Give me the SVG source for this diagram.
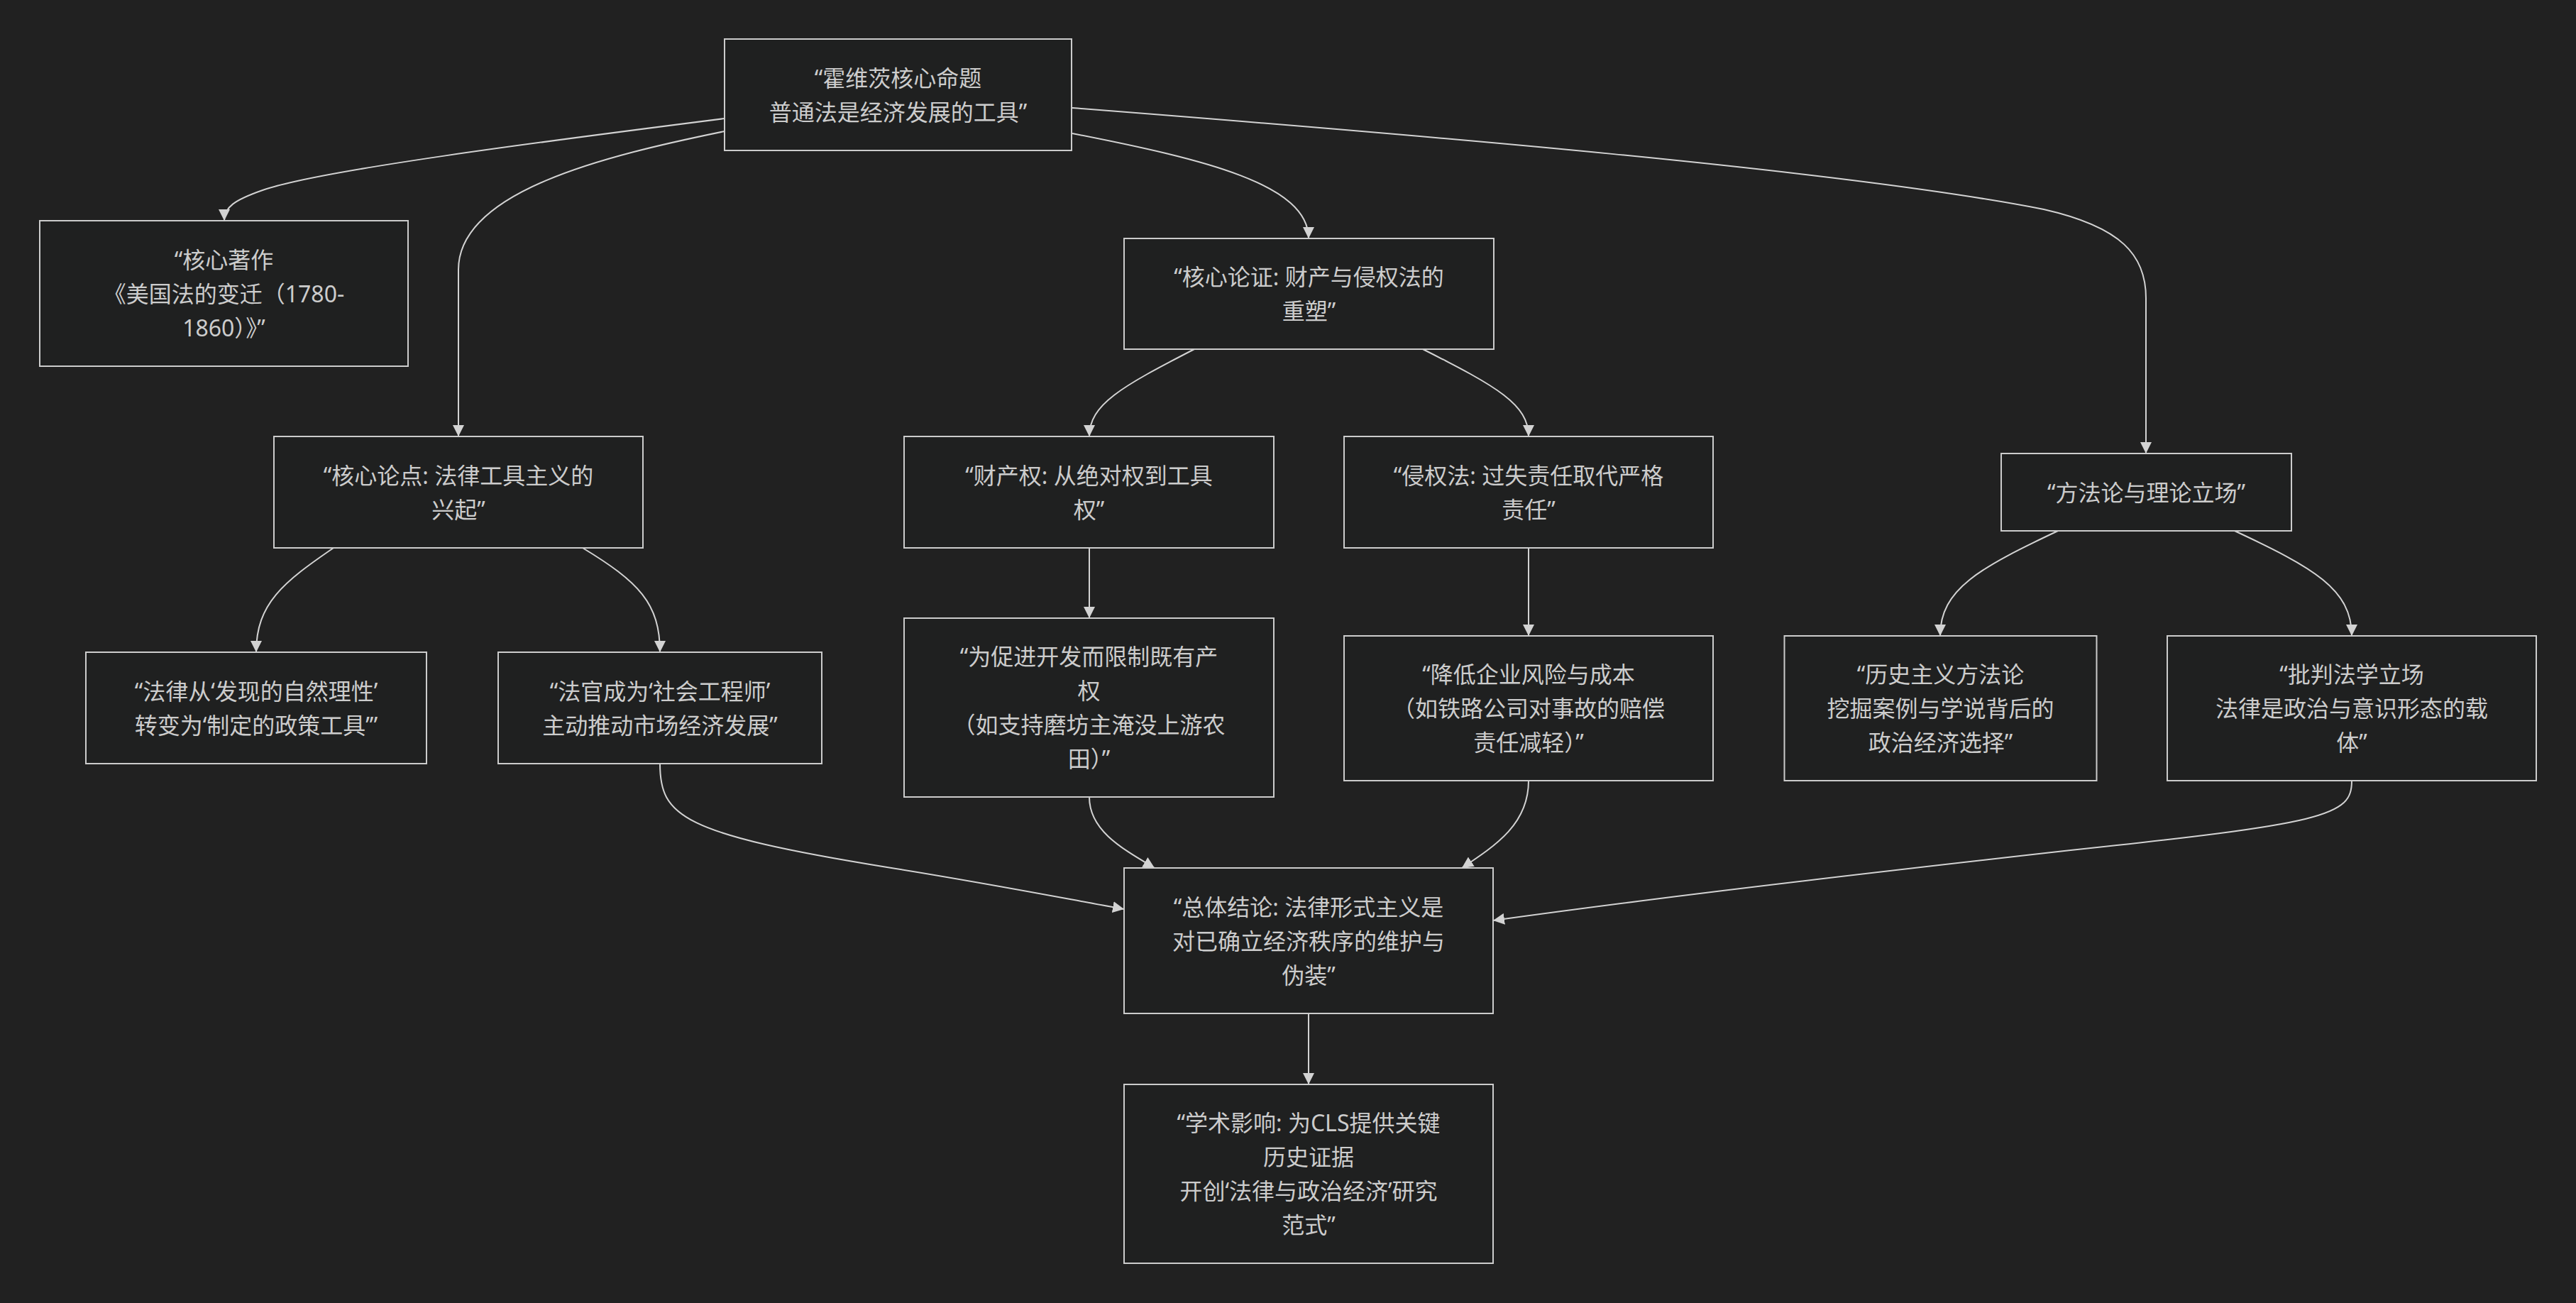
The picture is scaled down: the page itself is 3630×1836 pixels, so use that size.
<svg xmlns="http://www.w3.org/2000/svg" width="3630" height="1836" viewBox="0 0 3630 1836">
<defs>
<marker id="arr" markerUnits="userSpaceOnUse" markerWidth="16" markerHeight="16" viewBox="0 0 16 16" refX="16" refY="8" orient="auto">
<path d="M0,0 L16,8 L0,16 z" fill="#d3d3d3"/>
</marker>
<style>
.n rect{fill:#1f2020;stroke:#cccccc;stroke-width:2}
.n text{fill:#cccccc;font-family:"Noto Sans","Noto Sans CJK SC",sans-serif;font-size:32px;text-anchor:middle}
.e path{fill:none;stroke:#d3d3d3;stroke-width:2;marker-end:url(#arr)}
</style>
</defs>
<rect width="3630" height="1836" fill="#212121"/>
<g class="e" id="edges">
<path d="M1021,167 C760,200 450,240 370,268 C330,282 316,292 316,311"/>
<path d="M1021,185 C850,220 646,270 646,380 L646,615"/>
<path d="M1511,188 C1700,225 1844,260 1844,336"/>
<path d="M1511,152 C2000,190 2600,240 2880,295 C2990,320 3024,360 3024,420 L3024,639"/>
<path d="M470,772 C400,820 361,850 361,919"/>
<path d="M821,772 C900,820 930,850 930,919"/>
<path d="M1683,492 C1580,545 1535,570 1535,615"/>
<path d="M2005,492 C2110,545 2154,570 2154,615"/>
<path d="M1535,772 L1535,871"/>
<path d="M2154,772 L2154,896"/>
<path d="M2900,748 C2790,800 2734,830 2734,896"/>
<path d="M3149,748 C3260,800 3314,830 3314,896"/>
<path d="M930,1076 C930,1150 960,1175 1250,1222 C1400,1246 1500,1266 1584,1281"/>
<path d="M1535,1123 C1535,1170 1580,1195 1627,1223"/>
<path d="M2154,1100 C2154,1160 2110,1190 2060,1223"/>
<path d="M3314,1100 C3314,1150 3280,1160 2900,1200 C2500,1245 2300,1270 2104,1297"/>
<path d="M1844,1428 L1844,1528"/>
</g>
<g class="n" id="nA"><rect x="1021" y="55" width="489" height="157"/>
<text x="1265.5" y="121.5">“霍维茨核心命题</text><text x="1265.5" y="169.5">普通法是经济发展的工具”</text></g>
<g class="n" id="nB"><rect x="56" y="311" width="519" height="205"/>
<text x="315.5" y="377.5">“核心著作</text><text x="315.5" y="425.5">《美国法的变迁（1780-</text><text x="315.5" y="473.5">1860）》”</text></g>
<g class="n" id="nC"><rect x="386" y="615" width="520" height="157"/>
<text x="646" y="681.5">“核心论点: 法律工具主义的</text><text x="646" y="729.5">兴起”</text></g>
<g class="n" id="nD"><rect x="1584" y="336" width="521" height="156"/>
<text x="1844.5" y="402">“核心论证: 财产与侵权法的</text><text x="1844.5" y="450">重塑”</text></g>
<g class="n" id="nE"><rect x="2820" y="639" width="409" height="109"/>
<text x="3024.5" y="705.5">“方法论与理论立场”</text></g>
<g class="n" id="nF"><rect x="121" y="919" width="480" height="157"/>
<text x="361" y="985.5">“法律从‘发现的自然理性’</text><text x="361" y="1033.5">转变为‘制定的政策工具’”</text></g>
<g class="n" id="nG"><rect x="702" y="919" width="456" height="157"/>
<text x="930" y="985.5">“法官成为‘社会工程师’</text><text x="930" y="1033.5">主动推动市场经济发展”</text></g>
<g class="n" id="nH"><rect x="1274" y="615" width="521" height="157"/>
<text x="1534.5" y="681.5">“财产权: 从绝对权到工具</text><text x="1534.5" y="729.5">权”</text></g>
<g class="n" id="nI"><rect x="1894" y="615" width="520" height="157"/>
<text x="2154" y="681.5">“侵权法: 过失责任取代严格</text><text x="2154" y="729.5">责任”</text></g>
<g class="n" id="nJ"><rect x="1274" y="871" width="521" height="252"/>
<text x="1534.5" y="937">“为促进开发而限制既有产</text><text x="1534.5" y="985">权</text><text x="1534.5" y="1033">（如支持磨坊主淹没上游农</text><text x="1534.5" y="1081">田）”</text></g>
<g class="n" id="nK"><rect x="1894" y="896" width="520" height="204"/>
<text x="2154" y="962">“降低企业风险与成本</text><text x="2154" y="1010">（如铁路公司对事故的赔偿</text><text x="2154" y="1058">责任减轻）”</text></g>
<g class="n" id="nL"><rect x="2514.5" y="896" width="440" height="204"/>
<text x="2734.5" y="962">“历史主义方法论</text><text x="2734.5" y="1010">挖掘案例与学说背后的</text><text x="2734.5" y="1058">政治经济选择”</text></g>
<g class="n" id="nM"><rect x="3054" y="896" width="520" height="204"/>
<text x="3314" y="962">“批判法学立场</text><text x="3314" y="1010">法律是政治与意识形态的载</text><text x="3314" y="1058">体”</text></g>
<g class="n" id="nN"><rect x="1584" y="1223" width="520" height="205"/>
<text x="1844" y="1289.5">“总体结论: 法律形式主义是</text><text x="1844" y="1337.5">对已确立经济秩序的维护与</text><text x="1844" y="1385.5">伪装”</text></g>
<g class="n" id="nO"><rect x="1584" y="1528" width="520" height="252"/>
<text x="1844" y="1594">“学术影响: 为CLS提供关键</text><text x="1844" y="1642">历史证据</text><text x="1844" y="1690">开创‘法律与政治经济’研究</text><text x="1844" y="1738">范式”</text></g>
</svg>
